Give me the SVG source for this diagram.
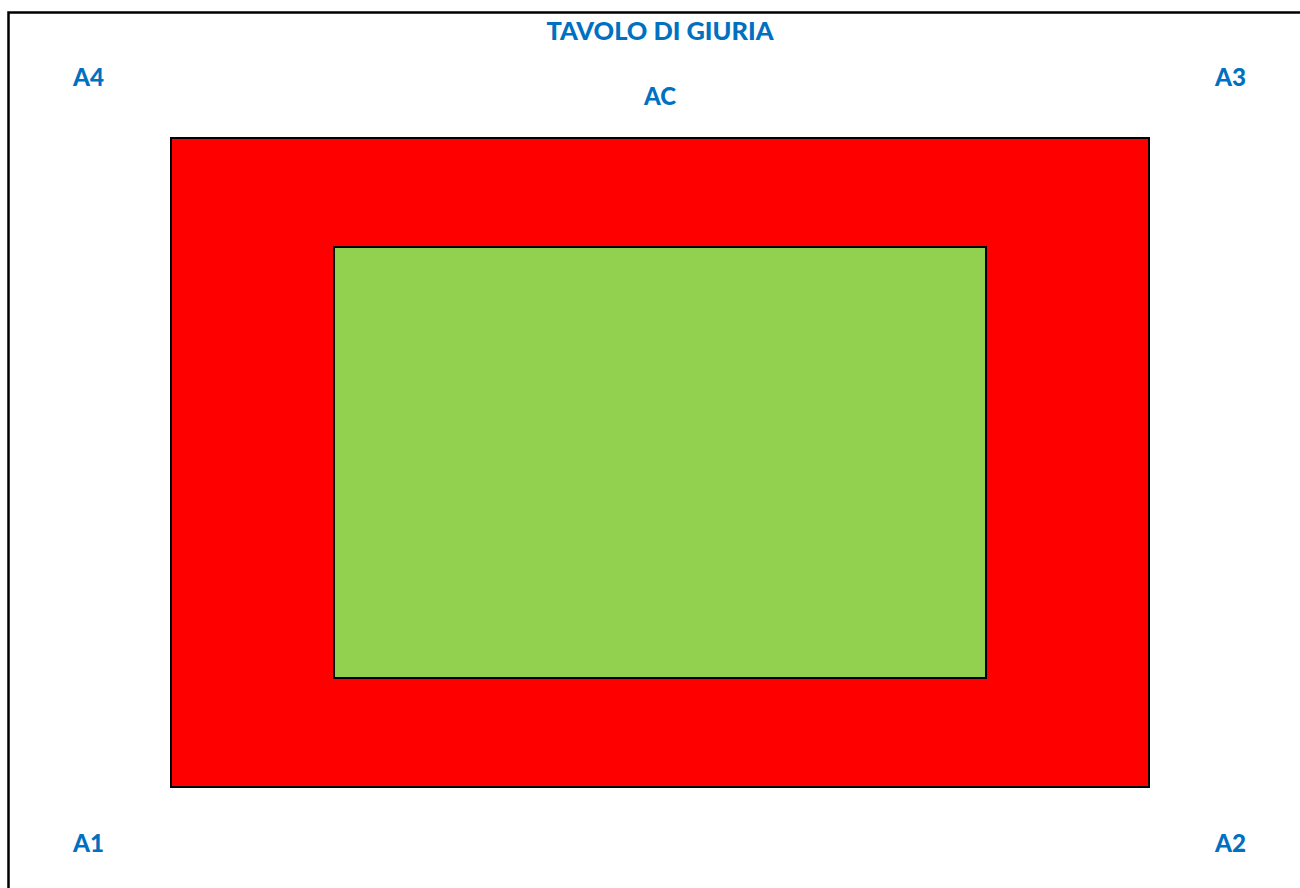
<svg xmlns="http://www.w3.org/2000/svg" width="1300" height="888" viewBox="0 0 1300 888">
  <style>
    .lbl { font-family: Lato, "Open Sans", "Liberation Sans", sans-serif; font-weight: 900; font-size: 24.5px; fill: #0070C0; text-anchor: middle; }
    .frame { fill: none; stroke: #000; stroke-width: 2.5; }
    .zone { stroke: #000; stroke-width: 2; }
  </style>
  <rect x="0" y="0" width="1300" height="888" fill="#fff"/>
  <g id="frame">
    <path class="frame" d="M8.5,888 V12.5 H1300"/>
  </g>
  <g id="outer-area">
    <rect class="zone" x="171" y="138" width="978" height="649" fill="#FF0000"/>
  </g>
  <g id="inner-area">
    <rect class="zone" x="334" y="247" width="652" height="431" fill="#92D050"/>
  </g>
  <g id="labels">
    <text id="tavolo" class="lbl" x="660" y="40" textLength="227" lengthAdjust="spacingAndGlyphs">TAVOLO DI GIURIA</text>
    <text id="ac" class="lbl" x="660" y="105" textLength="32" lengthAdjust="spacingAndGlyphs">AC</text>
    <text id="a4" class="lbl" x="88.5" y="85.5" textLength="31" lengthAdjust="spacingAndGlyphs">A4</text>
    <text id="a3" class="lbl" x="1230.5" y="85.5" textLength="31" lengthAdjust="spacingAndGlyphs">A3</text>
    <text id="a1" class="lbl" x="88.5" y="852" textLength="31" lengthAdjust="spacingAndGlyphs">A1</text>
    <text id="a2" class="lbl" x="1230.5" y="852" textLength="31" lengthAdjust="spacingAndGlyphs">A2</text>
  </g>
</svg>
